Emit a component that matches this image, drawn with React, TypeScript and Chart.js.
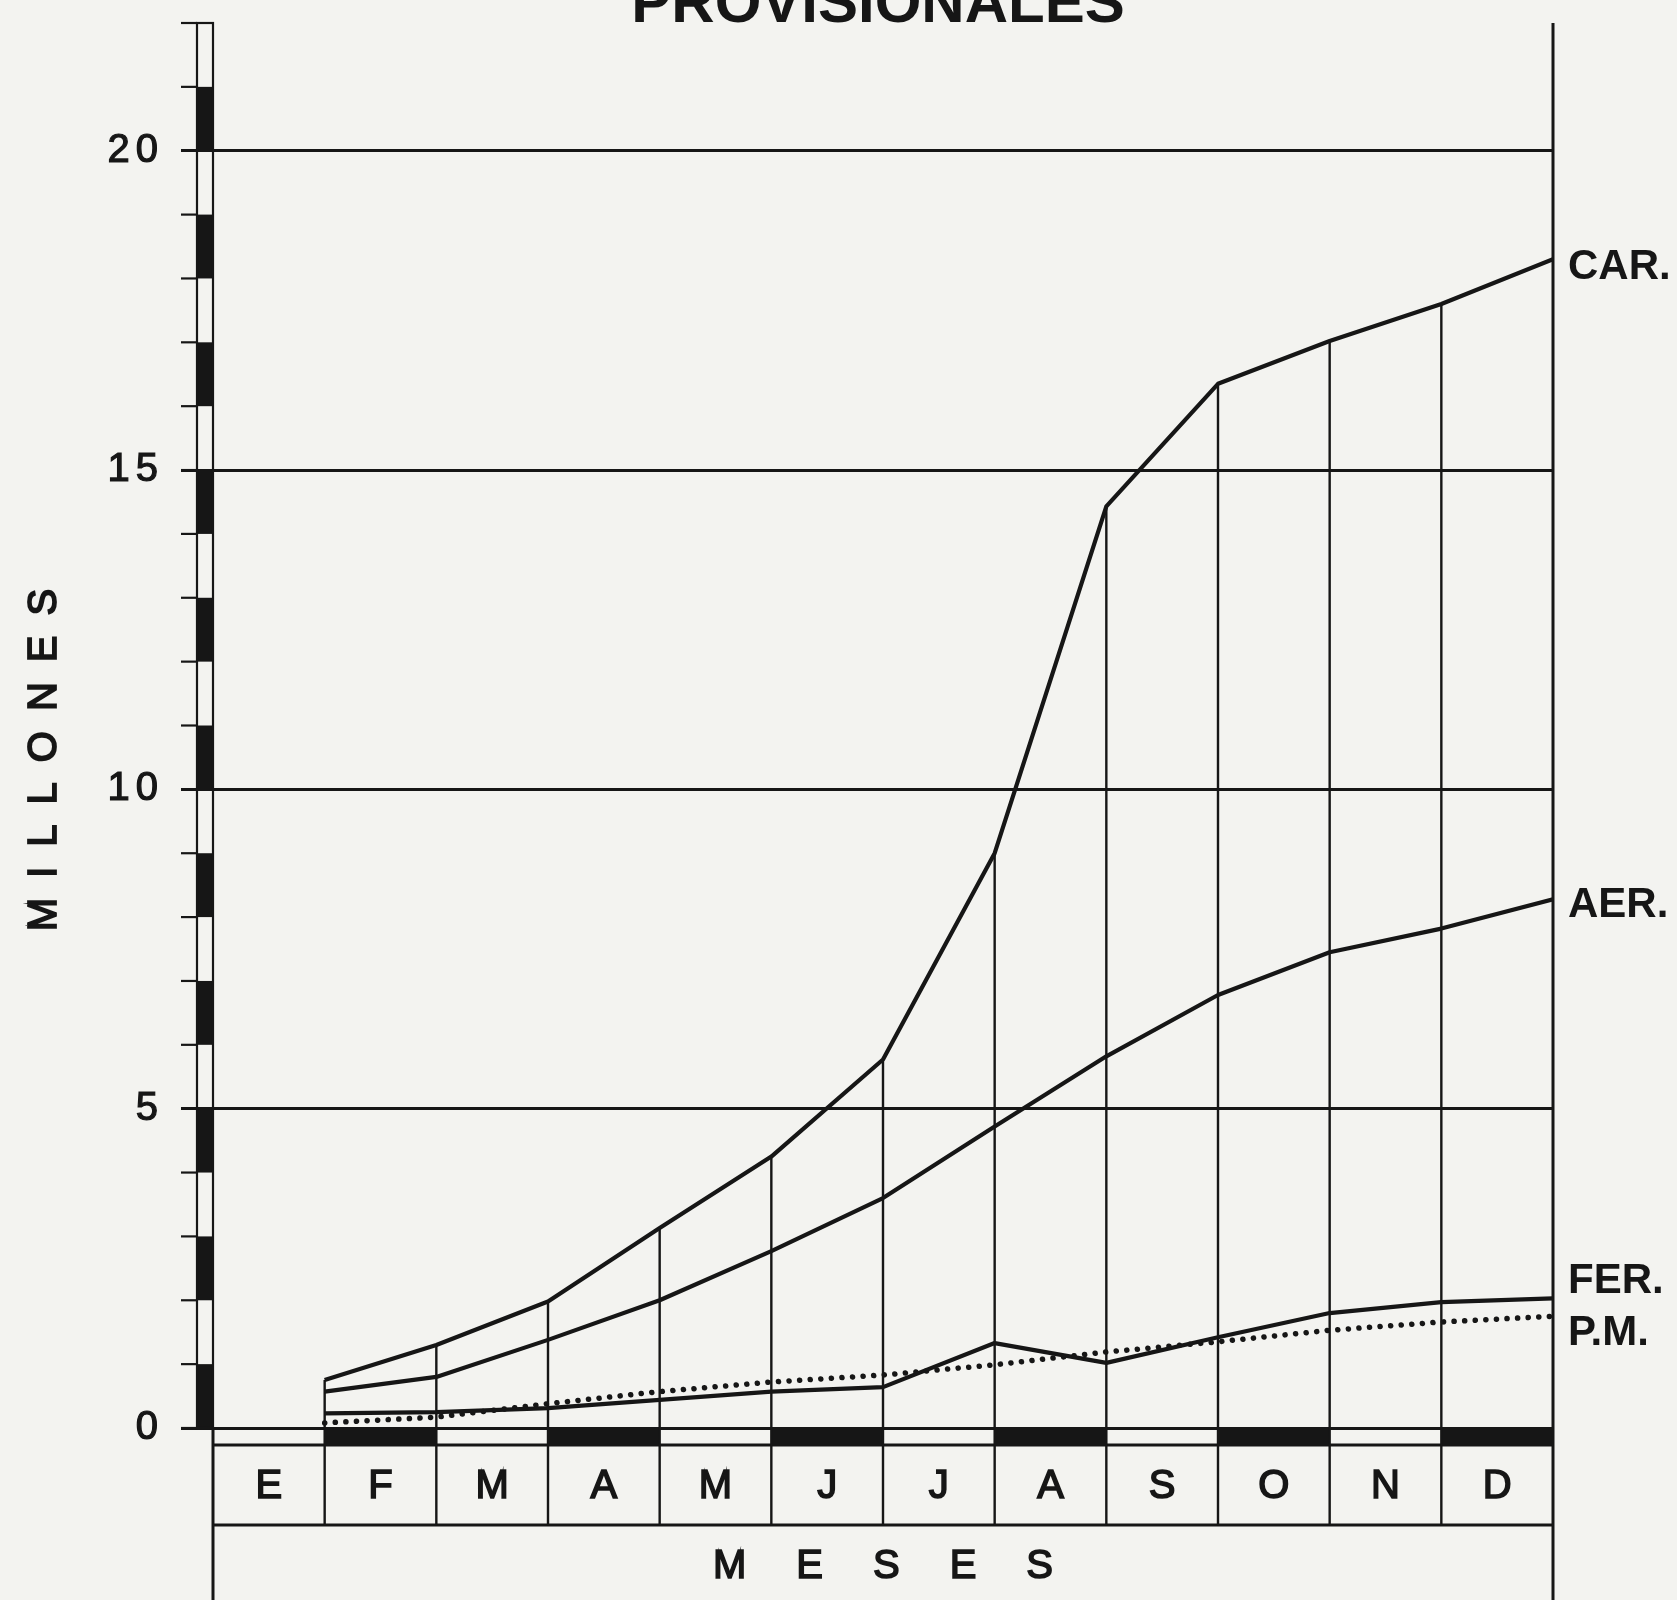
import React, { useEffect, useRef } from "react";
import { Chart, registerables } from "chart.js";

Chart.register(...registerables);

// ---------- data ----------
const TITLE = "PROVISIONALES";
const Y_TITLE = "MILLONES";
const X_TITLE = "MESES";
const MONTHS = ["E", "F", "M", "A", "M", "J", "J", "A", "S", "O", "N", "D"];
const SERIES_LABELS = ["CAR.", "AER.", "FER.", "P.M."];
// cumulative values (millions) at the end of each month, Jan..Dec
const CAR = [0.75, 1.3, 1.98, 3.13, 4.25, 5.77, 9.0, 14.43, 16.35, 17.02, 17.6, 18.3];
const AER = [0.57, 0.8, 1.38, 2.0, 2.77, 3.6, 4.72, 5.82, 6.78, 7.45, 7.82, 8.28];
const FER = [0.23, 0.25, 0.31, 0.44, 0.57, 0.64, 1.33, 1.02, 1.42, 1.8, 1.97, 2.03];
const PM = [0.08, 0.17, 0.38, 0.57, 0.72, 0.83, 0.99, 1.19, 1.35, 1.53, 1.66, 1.75];
const Y_TICKS = [0, 5, 10, 15, 20];
const Y_MAX = 22;

// ---------- style ----------
const INK = "#161616";
const PAPER = "#f3f3f0";
const FONT = "'Liberation Sans', Arial, sans-serif";

function heavyText(ctx: CanvasRenderingContext2D, s: string, x: number, y: number, w = 1.2) {
  ctx.fillText(s, x, y);
  ctx.lineWidth = w;
  ctx.strokeText(s, x, y);
}

const framePlugin = {
  id: "frame",
  beforeDraw(chart: any) {
    const ctx = chart.ctx;
    ctx.save();
    ctx.fillStyle = PAPER;
    ctx.fillRect(0, 0, chart.width, chart.height);
    ctx.restore();
    ctx.letterSpacing = "6px"; // for tick labels drawn by the scale
  },
  beforeDatasetsDraw(chart: any) {
    const ctx = chart.ctx;
    ctx.letterSpacing = "0px";
    const { left, right, top, bottom } = chart.chartArea;
    const ys = chart.scales.y;
    const xs = chart.scales.x;
    const H = chart.height;
    ctx.save();
    ctx.strokeStyle = INK;
    ctx.fillStyle = INK;

    // left graduated bar
    const bw = 16;
    const bx0 = left - bw;
    for (let v = 0; v < Y_MAX; v++) {
      if (v % 2 === 0) {
        const y1 = ys.getPixelForValue(v + 1);
        const y0 = ys.getPixelForValue(v);
        ctx.fillRect(bx0, y1, bw, y0 - y1);
      }
    }
    ctx.lineWidth = 2.2;
    ctx.strokeRect(bx0, top, bw, bottom - top);
    for (let v = 0; v <= Y_MAX; v++) {
      const y = ys.getPixelForValue(v);
      ctx.beginPath();
      ctx.moveTo(bx0 - 16, y);
      ctx.lineTo(bx0, y);
      ctx.stroke();
    }

    // frame verticals
    ctx.lineWidth = 3;
    ctx.beginPath();
    ctx.moveTo(right, top);
    ctx.lineTo(right, H);
    ctx.moveTo(left, bottom);
    ctx.lineTo(left, H);
    ctx.stroke();

    // month strip + label row
    const stripH = 17;
    const rowH = 80;
    for (let i = 0; i < MONTHS.length; i++) {
      if (i % 2 === 1) {
        const xa = xs.getPixelForValue(i);
        const xb = xs.getPixelForValue(i + 1);
        ctx.fillRect(xa, bottom, xb - xa, stripH);
      }
    }
    ctx.lineWidth = 3;
    ctx.beginPath();
    ctx.moveTo(left, bottom + stripH);
    ctx.lineTo(right, bottom + stripH);
    ctx.moveTo(left, bottom + stripH + rowH);
    ctx.lineTo(right, bottom + stripH + rowH);
    ctx.stroke();

    // drop lines from CAR to baseline and through the month row
    const meta = chart.getDatasetMeta(0);
    ctx.lineWidth = 2.4;
    ctx.beginPath();
    for (let k = 0; k < MONTHS.length - 1; k++) {
      const p = meta.data[k];
      ctx.moveTo(p.x, p.y);
      ctx.lineTo(p.x, bottom + stripH + rowH);
    }
    ctx.stroke();

    // month letters
    ctx.font = `40px ${FONT}`;
    ctx.textAlign = "center";
    ctx.textBaseline = "middle";
    for (let i = 0; i < MONTHS.length; i++) {
      const xm = xs.getPixelForValue(i + 0.5);
      heavyText(ctx, MONTHS[i], xm, bottom + stripH + rowH / 2 + 2, 1.6);
    }

    // x title
    ctx.font = `40px ${FONT}`;
    ctx.letterSpacing = "50px";
    ctx.textAlign = "left";
    const wx = ctx.measureText(X_TITLE).width - 50;
    heavyText(ctx, X_TITLE, (left + right) / 2 - wx / 2, bottom + stripH + rowH + 42, 1.6);

    // y title (rotated)
    ctx.save();
    ctx.translate(45, 760);
    ctx.rotate(-Math.PI / 2);
    ctx.letterSpacing = "20px";
    const wy = ctx.measureText(Y_TITLE).width - 20;
    heavyText(ctx, Y_TITLE, -wy / 2, 0, 1.8);
    ctx.restore();

    // title (cut off at the top)
    ctx.letterSpacing = "0px";
    ctx.font = `bold 60px ${FONT}`;
    ctx.textAlign = "center";
    ctx.textBaseline = "alphabetic";
    ctx.fillText(TITLE, 878, 22);

    ctx.restore();
  },
  afterDatasetsDraw(chart: any) {
    const ctx = chart.ctx;
    const { right } = chart.chartArea;
    const offsets = [8, 6, -17, 17];
    ctx.save();
    ctx.fillStyle = INK;
    ctx.letterSpacing = "0px";
    ctx.font = `bold 42px ${FONT}`;
    ctx.textAlign = "left";
    ctx.textBaseline = "middle";
    chart.data.datasets.forEach((ds: any, i: number) => {
      const meta = chart.getDatasetMeta(i);
      const p = meta.data[meta.data.length - 1];
      ctx.fillText(SERIES_LABELS[i], right + 15, p.y + offsets[i]);
    });
    ctx.restore();
  },
};

export default function App() {
  const ref = useRef<HTMLCanvasElement>(null);
  useEffect(() => {
    document.body.style.margin = "0";
    document.body.style.background = PAPER;
    const canvas = ref.current!;
    const mk = (vals: number[]) => vals.map((v, i) => ({ x: i + 1, y: v }));
    const solid = (label: string, vals: number[]) => ({
      label,
      data: mk(vals),
      borderColor: INK,
      borderWidth: 4.2,
      borderJoinStyle: "round",
      pointRadius: 0,
      tension: 0,
      fill: false,
    });
    const chart = new Chart(canvas, {
      type: "line",
      data: {
        datasets: [
          solid(SERIES_LABELS[0], CAR),
          solid(SERIES_LABELS[1], AER),
          solid(SERIES_LABELS[2], FER),
          {
            label: SERIES_LABELS[3],
            data: mk(PM),
            borderColor: INK,
            borderWidth: 5.5,
            borderDash: [0.1, 10.5],
            borderCapStyle: "round",
            pointRadius: 0,
            tension: 0,
            fill: false,
          } as any,
        ],
      },
      options: {
        animation: false,
        responsive: false,
        maintainAspectRatio: false,
        devicePixelRatio: 1,
        layout: { padding: { left: 0, right: 124, top: 23, bottom: 172 } },
        plugins: {
          legend: { display: false },
          tooltip: { enabled: false },
          title: { display: false },
        },
        scales: {
          x: { type: "linear", min: 0, max: 12, display: false },
          y: {
            type: "linear",
            min: 0,
            max: Y_MAX,
            afterBuildTicks: (s: any) => {
              s.ticks = Y_TICKS.map((v) => ({ value: v }));
            },
            afterFit: (s: any) => {
              s.width = 213;
              s.paddingTop = 0;
              s.paddingBottom = 0;
            },
            border: { display: false },
            grid: { color: INK, lineWidth: 3, tickLength: 32, drawTicks: true },
            ticks: {
              color: INK,
              font: { family: FONT, size: 40, lineHeight: 1 },
              padding: 17,
              textStrokeColor: INK,
              textStrokeWidth: 1.2,
            },
          },
        },
      } as any,
      plugins: [framePlugin],
    });
    return () => chart.destroy();
  }, []);
  return (
    <div style={{ position: "absolute", left: 0, top: 0, width: 1677, height: 1600 }}>
      <canvas ref={ref} width={1677} height={1600} style={{ width: 1677, height: 1600, display: "block" }} />
    </div>
  );
}
